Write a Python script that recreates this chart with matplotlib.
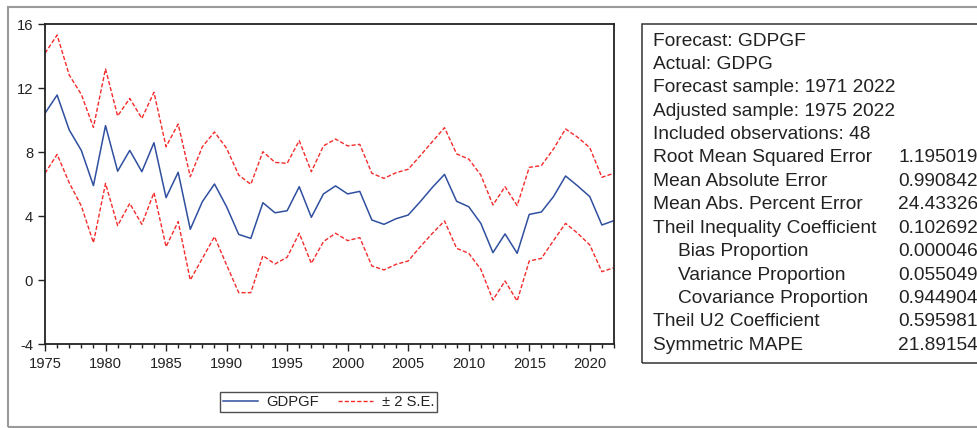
import numpy as np
import matplotlib
matplotlib.use("Agg")
import matplotlib.pyplot as plt
from matplotlib.patches import Rectangle
from matplotlib.ticker import MultipleLocator

plt.rcParams['font.family'] = ['Liberation Sans', 'DejaVu Sans']
plt.rcParams['axes.unicode_minus'] = False

years = np.arange(1975, 2023)

# forecast GDPGF
gdpgf = [10.42, 11.56, 9.38, 8.10, 5.90, 9.65, 6.80, 8.10, 6.77, 8.58,
         5.15, 6.73, 3.17, 4.90, 6.00, 4.58, 2.85, 2.60, 4.83, 4.20,
         4.33, 5.83, 3.92, 5.38, 5.88, 5.38, 5.54, 3.75, 3.48, 3.83,
         4.06, 4.90, 5.79, 6.60, 4.92, 4.58, 3.54, 1.71, 2.88, 1.67,
         4.10, 4.25, 5.21, 6.50, 5.88, 5.21, 3.44, 3.71]

# +2 S.E. band
upper = [14.17, 15.31, 12.81, 11.60, 9.54, 13.19, 10.25, 11.35, 10.10, 11.73,
         8.33, 9.75, 6.46, 8.33, 9.25, 8.23, 6.56, 5.98, 8.02, 7.35,
         7.29, 8.71, 6.77, 8.38, 8.81, 8.38, 8.48, 6.67, 6.35, 6.71,
         6.92, 7.77, 8.65, 9.52, 7.88, 7.56, 6.56, 4.69, 5.83, 4.65,
         7.04, 7.15, 8.19, 9.44, 8.92, 8.27, 6.42, 6.67]

# -2 S.E. band
lower = [6.67, 7.85, 6.08, 4.63, 2.33, 6.04, 3.40, 4.79, 3.48, 5.46,
         2.08, 3.65, 0.00, 1.35, 2.71, 0.94, -0.79, -0.79, 1.52, 1.00,
         1.42, 2.92, 1.04, 2.40, 2.92, 2.46, 2.65, 0.88, 0.63, 0.98,
         1.19, 2.08, 2.92, 3.69, 1.98, 1.67, 0.67, -1.25, -0.06, -1.31,
         1.19, 1.35, 2.46, 3.54, 2.92, 2.19, 0.52, 0.77]

stat_labels = ["Forecast: GDPGF", "Actual: GDPG",
               "Forecast sample: 1971 2022", "Adjusted sample: 1975 2022",
               "Included observations: 48",
               "Root Mean Squared Error", "Mean Absolute Error",
               "Mean Abs. Percent Error", "Theil Inequality Coefficient",
               "   Bias Proportion", "   Variance Proportion",
               "   Covariance Proportion", "Theil U2 Coefficient",
               "Symmetric MAPE"]
stat_values = ["", "", "", "", "",
               "1.195019", "0.990842", "24.43326", "0.102692",
               "0.000046", "0.055049", "0.944904", "0.595981", "21.89154"]

W, H = 977, 428
fig = plt.figure(figsize=(W / 100, H / 100), dpi=100)
fig.patch.set_facecolor('white')

ax = fig.add_axes([45 / W, 1 - 344 / H, (614 - 45) / W, (344 - 24) / H])
blue = '#2F4F9F'
red = '#F42B2B'
ax.plot(years, gdpgf, color=blue, lw=1.1, label='GDPGF')
ax.plot(years, upper, color=red, lw=1.0, dashes=(3, 1.5), label='\u00b1 2 S.E.')
ax.plot(years, lower, color=red, lw=1.0, dashes=(3, 1.5))

ax.set_xlim(1975, 2022)
ax.set_ylim(-4, 16)
ax.yaxis.set_major_locator(MultipleLocator(4))
ax.xaxis.set_major_locator(MultipleLocator(5))
ax.xaxis.set_minor_locator(MultipleLocator(1))
ax.tick_params(axis='both', which='major', direction='out', length=5,
               width=1.0, color='#222222', labelsize=10.6, labelcolor='#222222')
ax.tick_params(axis='x', which='minor', direction='out', length=2.9,
               width=1.0, color='#222222')
ax.tick_params(axis='y', pad=3.5)
ax.tick_params(axis='x', pad=4.3)
for s in ax.spines.values():
    s.set_color('#222222')
    s.set_linewidth(1.3)

# legend below the plot
handles, labels = ax.get_legend_handles_labels()
leg = fig.legend(handles, labels, ncol=2, loc='center',
                 bbox_to_anchor=(328.5 / W, 1 - 402 / H),
                 fontsize=10.6, frameon=True, fancybox=False,
                 handlelength=2.4, handletextpad=0.55, columnspacing=1.3,
                 borderpad=0.2, borderaxespad=0)
leg.get_frame().set_edgecolor('#222222')
leg.get_frame().set_linewidth(1.0)
for t in leg.get_texts():
    t.set_color('#222222')

# outer gray frame
fig.patches.append(Rectangle((8 / W, 1 - 427 / H), (990 - 8) / W, (427 - 7) / H,
                             transform=fig.transFigure, fill=False,
                             edgecolor='#9A9A9A', lw=1.5, clip_on=False))

# forecast evaluation table
fig.patches.append(Rectangle((642 / W, 1 - 363 / H), (995 - 642) / W, (363 - 24) / H,
                             transform=fig.transFigure, fill=False,
                             edgecolor='#333333', lw=1.1, clip_on=False))
for i, (lab, val) in enumerate(zip(stat_labels, stat_values)):
    y = 1 - (41 + 23.4 * i) / H
    x = 678 if lab.startswith('   ') else 653
    fig.text(x / W, y, lab.strip(), fontsize=13.8, color='#222222',
             va='center', ha='left')
    if val:
        fig.text(898 / W, y, val, fontsize=13.8, color='#222222',
                 va='center', ha='left')

fig.savefig('out.png', dpi=100)
